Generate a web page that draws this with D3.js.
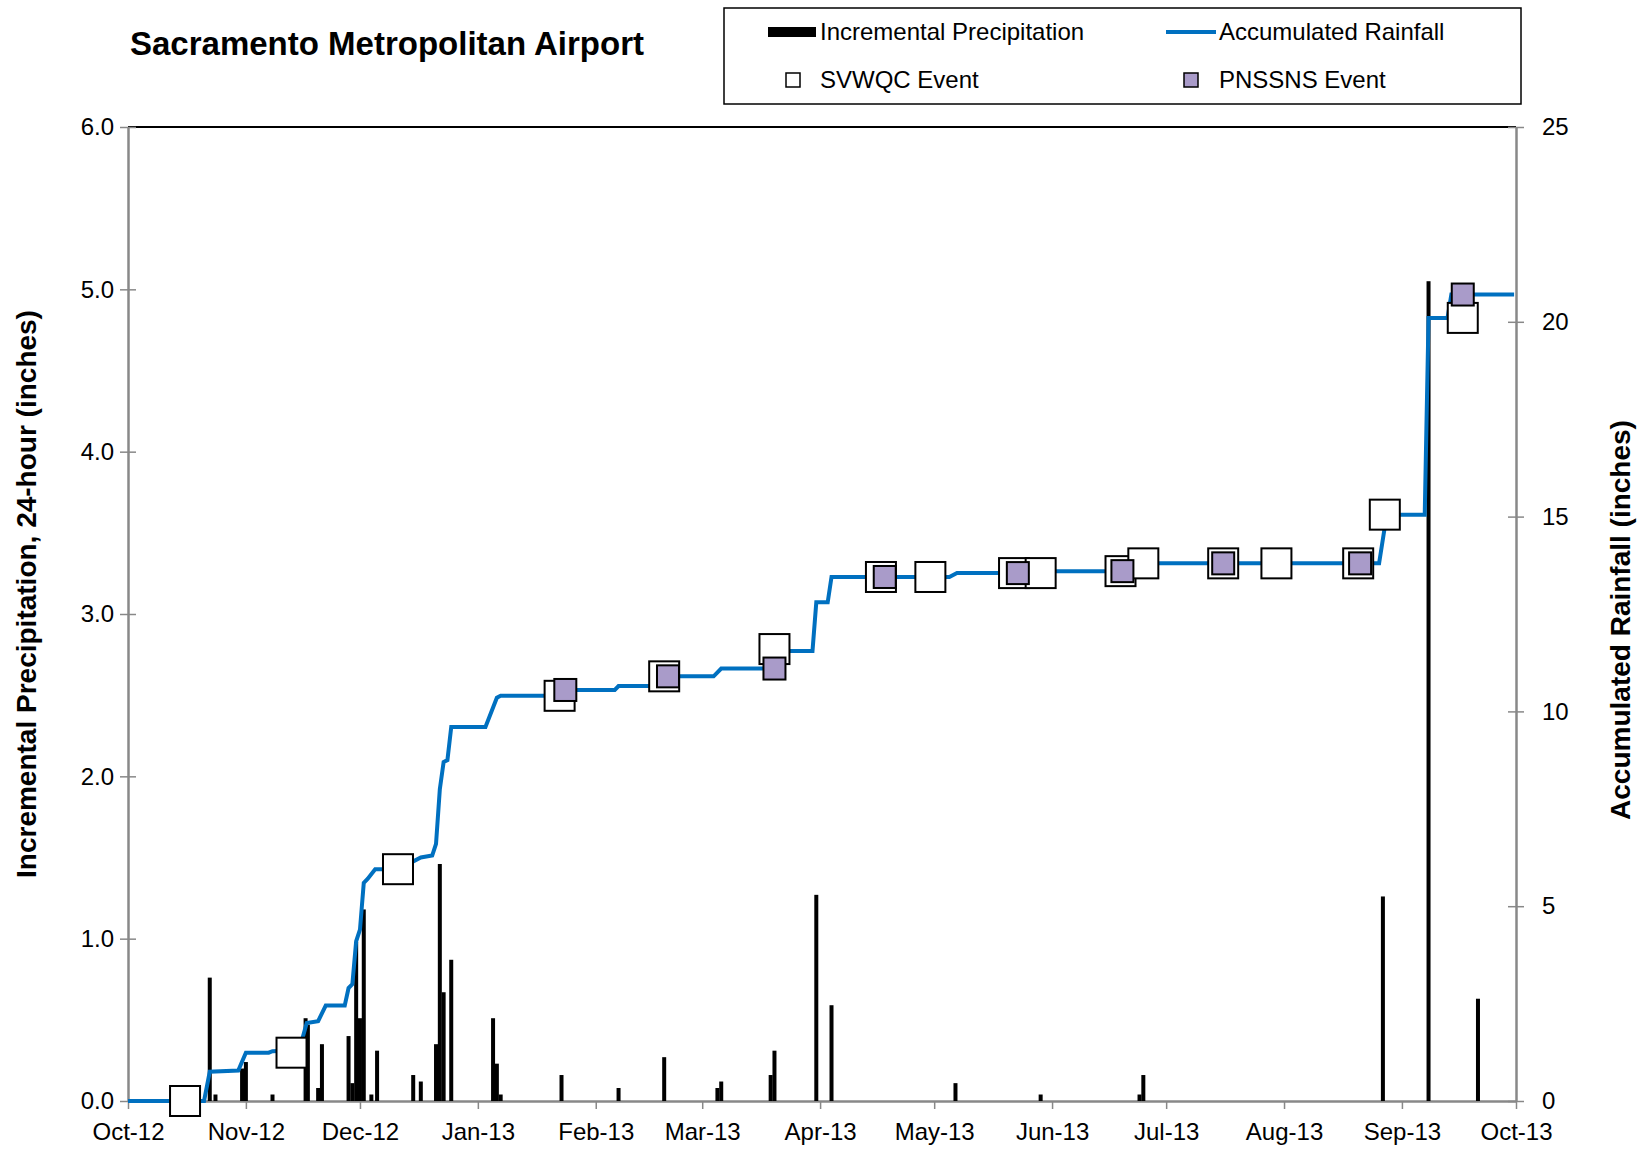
<!DOCTYPE html>
<html>
<head>
<meta charset="utf-8">
<script src="https://cdn.jsdelivr.net/npm/d3@7"></script>
<style>
  body { margin: 0; background: #fff; }
  text { font-family: "Liberation Sans", Arial, sans-serif; }
</style>
</head>
<body>
<svg id="chart"></svg>
<script>
// day offsets from Oct 1 2012
const precipDays = [21.5, 23, 30, 31, 38, 46.7, 47.3, 50, 51, 58, 59, 60, 61, 62, 64, 65.5, 75, 77, 81, 82, 83, 85, 96, 97, 98, 114, 129, 141, 155, 156, 169, 170, 181, 185, 217.6, 240, 266, 267, 330, 342, 355];
const precipValues = [0.76, 0.04, 0.2, 0.24, 0.04, 0.51, 0.47, 0.08, 0.35, 0.40, 0.11, 0.98, 0.51, 1.18, 0.04, 0.31, 0.16, 0.12, 0.35, 1.46, 0.67, 0.87, 0.51, 0.23, 0.04, 0.16, 0.08, 0.27, 0.08, 0.12, 0.16, 0.31, 1.27, 0.59, 0.11, 0.04, 0.04, 0.16, 1.26, 5.05, 0.63];

const accumDays = [0, 20, 21.5, 29, 31, 37, 38, 45, 47, 50, 52, 57, 58, 59, 60, 61, 62, 63, 65, 73, 75, 77, 80, 81, 82, 83, 84, 85, 94, 96, 97, 98, 113, 114, 128, 129, 140, 141, 154, 156, 168, 170, 180, 181, 184, 185, 216, 218, 239, 240, 265, 267, 329, 331, 341, 342, 347, 348, 364.5];
const accumValues = [0, 0, 0.75, 0.78, 1.24, 1.24, 1.28, 1.3, 2.0, 2.05, 2.45, 2.45, 2.9, 3.0, 4.1, 4.4, 5.6, 5.7, 5.95, 5.95, 6.15, 6.25, 6.3, 6.6, 8.0, 8.7, 8.75, 9.6, 9.6, 10.1, 10.35, 10.4, 10.4, 10.55, 10.55, 10.65, 10.65, 10.9, 10.9, 11.1, 11.1, 11.55, 11.55, 12.8, 12.8, 13.45, 13.45, 13.55, 13.55, 13.6, 13.6, 13.8, 13.8, 15.05, 15.05, 20.1, 20.1, 20.7, 20.7];

const svwqcDays = [15, 43, 71, 113.5, 141, 170, 198, 211, 233, 240, 261, 267, 288, 302, 323.5, 330.5, 351];
const svwqcValues = [0, 1.24, 5.95, 10.4, 10.9, 11.6, 13.45, 13.45, 13.55, 13.55, 13.6, 13.8, 13.8, 13.8, 13.8, 15.05, 20.1];
const pnssnsDays = [115, 142, 170, 199, 234, 261.5, 288, 324, 351];
const pnssnsValues = [10.55, 10.9, 11.1, 13.45, 13.55, 13.6, 13.8, 13.8, 20.7];

const leftTicks = [0, 1, 2, 3, 4, 5, 6];
const rightTicks = [0, 5, 10, 15, 20, 25];

const W = 1646, H = 1151;
const margin = { top: 127, right: 130, bottom: 50, left: 128 };
const width = W - margin.left - margin.right;
const height = H - margin.top - margin.bottom;
const start = new Date(2012, 9, 1), end = new Date(2013, 9, 1);
const toDate = (d) => new Date(start.getTime() + d * 864e5);

const svgEl = d3.select('#chart').attr('width', W).attr('height', H);
const svg = svgEl.append('g').attr('transform', `translate(${margin.left},${margin.top})`);

const x = d3.scaleTime().domain([start, end]).range([0, width]);
const y = d3.scaleLinear().domain([0, 6]).range([height, 0]);
const y2 = d3.scaleLinear().domain([0, 25]).range([height, 0]);

// top border
svg.append('line').attr('x1', 0).attr('x2', width).attr('y1', 0).attr('y2', 0)
  .attr('stroke', '#000').attr('stroke-width', 2);

const styleAxis = (g) => {
  g.select('.domain').attr('stroke', '#888').attr('stroke-width', 2.5);
  g.selectAll('.tick line').attr('stroke', '#888').attr('stroke-width', 1.5);
  g.selectAll('.tick text').attr('font-size', 24).attr('fill', '#000')
    .attr('font-family', '"Liberation Sans", Arial, sans-serif');
};

svg.append('g').call(d3.axisLeft(y).tickValues(leftTicks).tickFormat(d3.format('.1f')).tickSizeInner(8).tickSizeOuter(0))
  .call(styleAxis).call((g) => g.selectAll('.tick line').attr('x2', 8).attr('x1', -8))
  .call((g) => g.selectAll('.tick text').attr('x', -14));

svg.append('g').attr('transform', `translate(${width},0)`)
  .call(d3.axisRight(y2).tickValues(rightTicks).tickSizeInner(8).tickSizeOuter(0))
  .call(styleAxis).call((g) => g.selectAll('.tick line').attr('x1', -8).attr('x2', 8))
  .call((g) => g.selectAll('.tick text').attr('x', 26));

svg.append('g').attr('transform', `translate(0,${height})`)
  .call(d3.axisBottom(x).ticks(d3.timeMonth.every(1)).tickFormat(d3.timeFormat('%b-%y')).tickSizeInner(8).tickSizeOuter(0))
  .call(styleAxis).call((g) => g.selectAll('.tick text').attr('y', 22));

// bars
svg.selectAll('.bar').data(precipDays).enter().append('rect')
  .attr('x', (d) => x(toDate(d)) - 2)
  .attr('width', 4)
  .attr('y', (d, i) => y(precipValues[i]))
  .attr('height', (d, i) => height - y(precipValues[i]))
  .attr('fill', '#000');

// accumulated line
const line = d3.line().x((d) => x(toDate(d))).y((d, i) => y2(accumValues[i]));
svg.append('path').datum(accumDays).attr('d', line)
  .attr('fill', 'none').attr('stroke', '#0070c0').attr('stroke-width', 4);

// markers
const s1 = 30, s2 = 22;
svg.selectAll('.sv').data(svwqcDays).enter().append('rect')
  .attr('x', (d) => x(toDate(d)) - s1 / 2).attr('y', (d, i) => y2(svwqcValues[i]) - s1 / 2)
  .attr('width', s1).attr('height', s1).attr('fill', '#fff').attr('stroke', '#000').attr('stroke-width', 2);
svg.selectAll('.pn').data(pnssnsDays).enter().append('rect')
  .attr('x', (d) => x(toDate(d)) - s2 / 2).attr('y', (d, i) => y2(pnssnsValues[i]) - s2 / 2)
  .attr('width', s2).attr('height', s2).attr('fill', '#a99bc9').attr('stroke', '#000').attr('stroke-width', 2);

// axis titles
svgEl.append('text').attr('transform', `translate(36,594) rotate(-90)`)
  .attr('text-anchor', 'middle').attr('font-size', 28).attr('font-weight', 'bold')
  .text('Incremental Precipitation, 24-hour (inches)');
svgEl.append('text').attr('transform', `translate(1630,620) rotate(-90)`)
  .attr('text-anchor', 'middle').attr('font-size', 28).attr('font-weight', 'bold')
  .text('Accumulated Rainfall (inches)');

// title
svgEl.append('text').attr('x', 130).attr('y', 55).attr('font-size', 33).attr('font-weight', 'bold')
  .text('Sacramento Metropolitan Airport');

// legend
const lg = svgEl.append('g');
lg.append('rect').attr('x', 724).attr('y', 8).attr('width', 797).attr('height', 96)
  .attr('fill', '#fff').attr('stroke', '#000').attr('stroke-width', 1.5);
lg.append('rect').attr('x', 768).attr('y', 27).attr('width', 48).attr('height', 10).attr('fill', '#000');
lg.append('text').attr('x', 820).attr('y', 40).attr('font-size', 24).text('Incremental Precipitation');
lg.append('line').attr('x1', 1166).attr('x2', 1216).attr('y1', 32).attr('y2', 32).attr('stroke', '#0070c0').attr('stroke-width', 4);
lg.append('text').attr('x', 1219).attr('y', 40).attr('font-size', 24).text('Accumulated Rainfall');
lg.append('rect').attr('x', 786).attr('y', 73).attr('width', 14).attr('height', 14).attr('fill', '#fff').attr('stroke', '#000').attr('stroke-width', 1.5);
lg.append('text').attr('x', 820).attr('y', 88).attr('font-size', 24).text('SVWQC Event');
lg.append('rect').attr('x', 1184).attr('y', 73).attr('width', 14).attr('height', 14).attr('fill', '#a99bc9').attr('stroke', '#000').attr('stroke-width', 1.5);
lg.append('text').attr('x', 1219).attr('y', 88).attr('font-size', 24).text('PNSSNS Event');
</script>
</body>
</html>
